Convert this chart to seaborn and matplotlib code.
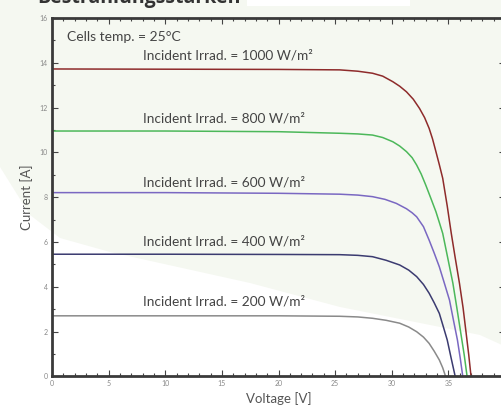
import numpy as np
import pandas as pd
import matplotlib
matplotlib.use("Agg")
import matplotlib.pyplot as plt
from matplotlib.patches import Polygon, Rectangle
from matplotlib.ticker import MultipleLocator, FixedLocator
import seaborn as sns

# I-V Kennlinien
v_1000 = [0, 10, 20, 25.4, 27, 28.3, 29.2, 30.1, 30.7, 31.3, 31.9, 32.45, 32.9, 33.3, 33.6,
          33.9, 34.2, 34.5, 34.9, 35.25, 35.6, 35.98, 36.3, 36.57, 36.8, 37.0]
i_1000 = [13.72, 13.71, 13.70, 13.68, 13.62, 13.53, 13.4, 13.15, 12.95, 12.7, 12.37, 11.96, 11.55, 11.07, 10.6,
          10.03, 9.45, 8.84, 7.6, 6.4, 5.3, 4.15, 3.05, 1.92, 0.95, 0.0]

v_800 = [0, 10, 20, 25.4, 27, 28.3, 29.2, 30.1, 30.7, 31.3, 31.8, 32.2, 32.6, 33.0, 33.45,
         33.9, 34.2, 34.5, 34.95, 35.4, 35.75, 36.1, 36.4, 36.65]
i_800 = [10.95, 10.95, 10.92, 10.85, 10.82, 10.77, 10.66, 10.47, 10.28, 10.03, 9.76, 9.43, 9.03, 8.54, 7.95,
         7.35, 6.87, 6.38, 5.27, 4.15, 3.05, 1.92, 0.95, 0.0]

v_600 = [0, 10, 20, 25.4, 27, 28.3, 29.4, 30.4, 31.3, 31.8, 32.2, 32.8, 33.3, 33.75, 34.2,
         34.65, 35.1, 35.45, 35.8, 36.05, 36.27]
i_600 = [8.2, 8.2, 8.17, 8.13, 8.09, 8.02, 7.9, 7.72, 7.48, 7.3, 7.12, 6.68, 6.08, 5.5, 4.89,
         4.15, 3.4, 2.5, 1.62, 0.8, 0.0]

v_400 = [0, 10, 20, 25.4, 27, 28.3, 29.5, 30.7, 31.5, 32.2, 32.8, 33.3, 33.75, 34.2, 34.55,
         34.9, 35.25, 35.6]
i_400 = [5.45, 5.45, 5.44, 5.43, 5.40, 5.34, 5.18, 4.97, 4.74, 4.45, 4.1, 3.71, 3.28, 2.81, 2.22,
         1.62, 0.8, 0.0]

v_200 = [0, 10, 20, 25.4, 27, 28.3, 29.5, 30.7, 31.5, 32.2, 32.8, 33.3, 33.75, 34.2, 34.5, 34.75]
i_200 = [2.7, 2.7, 2.7, 2.68, 2.65, 2.59, 2.5, 2.37, 2.2, 1.99, 1.75, 1.47, 1.12, 0.73, 0.38, 0.0]

irrad = [1000, 800, 600, 400, 200]
label_y = [14.34, 11.5, 8.67, 6.04, 3.36]
colors = ["#8e2b2b", "#4cb85a", "#7a68c2", "#3b3b70", "#8a8a8a"]
x_ticks = [0, 5, 10, 15, 20, 25, 30, 35]

rows = []
for g, vs, cs in zip(irrad, [v_1000, v_800, v_600, v_400, v_200],
                     [i_1000, i_800, i_600, i_400, i_200]):
    for v, c in zip(vs, cs):
        rows.append({"Voltage": v, "Current": c, "Irrad": g})
df = pd.DataFrame(rows)

sns.set_style("ticks")
plt.rcParams["font.family"] = ["Lato", "DejaVu Sans"]

bg = "#f5f8f1"
fig = plt.figure(figsize=(5.02, 4.11), dpi=100, facecolor=bg)

# heller Hintergrund mit weisser Flaeche unten links
W, H = 502, 411
pts = [(0, 167), (30, 215), (60, 238), (110, 252), (250, 283), (340, 307),
       (480, 335), (502, 345), (502, 411), (0, 411)]
fig.patches.append(Polygon([(x / W, 1 - y / H) for x, y in pts], closed=True,
                           transform=fig.transFigure, facecolor="white",
                           edgecolor="none", zorder=-2))
fig.patches.append(Rectangle((247 / W, 1 - 6 / H), 163 / W, 6 / H,
                             transform=fig.transFigure, facecolor="white",
                             edgecolor="none", zorder=-2))
fig.text(37 / W, 1 - 3.5 / H, "Bestrahlungsstärken", fontsize=14,
         fontweight="bold", color="#333333", va="baseline",
         family=["Open Sans", "DejaVu Sans"])

ax = fig.add_axes([52 / W, (H - 376.3) / H, 453 / W, 358.4 / H])
ax.set_facecolor("none")
ax.set_zorder(1)

sns.lineplot(data=df, x="Voltage", y="Current", hue="Irrad", palette=colors,
             hue_order=irrad, sort=False, estimator=None, linewidth=1.1,
             legend=False, ax=ax)

ax.set_xlim(0, 40)
ax.set_ylim(0, 16)
ax.xaxis.set_major_locator(FixedLocator(x_ticks))
ax.xaxis.set_minor_locator(MultipleLocator(1))
ax.yaxis.set_major_locator(MultipleLocator(2))
ax.yaxis.set_minor_locator(MultipleLocator(1))
ax.tick_params(which="both", direction="in", top=True, right=True,
               color="#444444", width=0.8)
ax.tick_params(which="major", length=4.5, labelsize=5, labelcolor="#888888", pad=3)
ax.tick_params(which="minor", length=2.5)
for s in ax.spines.values():
    s.set_linewidth(2)
    s.set_color("#3a3a3a")

ax.set_xlabel("Voltage [V]", fontsize=9.5, color="#555555", labelpad=3)
ax.set_ylabel("Current [A]", fontsize=9.5, color="#555555", labelpad=5)

ax.text(1.3, 15.15, "Cells temp. = 25°C", fontsize=10, color="#444444",
        va="center", ha="left")
for g, y in zip(irrad, label_y):
    ax.text(8.0, y, f"Incident Irrad. = {g} W/m²", fontsize=9.8,
            color="#444444", va="center", ha="left")

fig.savefig("out.png", dpi=100, facecolor=bg)
